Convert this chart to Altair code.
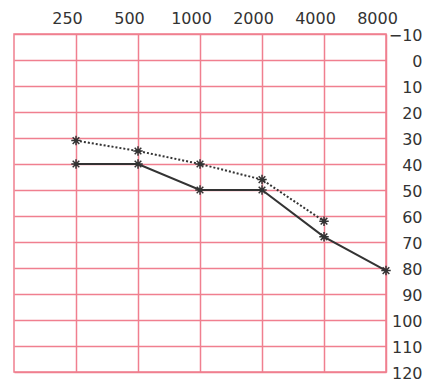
import altair as alt
import pandas as pd

freqs_solid = [250, 500, 1000, 2000, 4000, 8000]
db_solid = [40, 40, 50, 50, 68, 81]
freqs_dotted = [250, 500, 1000, 2000, 4000]
db_dotted = [31, 35, 40, 46, 62]
x_ticks = [250, 500, 1000, 2000, 4000, 8000]
y_ticks = list(range(-10, 121, 10))

solid = pd.DataFrame({"freq": freqs_solid, "db": db_solid})
dotted = pd.DataFrame({"freq": freqs_dotted, "db": db_dotted})

GRID = "#f07f8f"
FONT = "DejaVu Sans"
STAR = "M-1,0L1,0M0,-1L0,1M-0.7,-0.7L0.7,0.7M-0.7,0.7L0.7,-0.7"

xs = alt.Scale(type="log", base=2, domain=[125, 8000], nice=False)
ys = alt.Scale(domain=[-10, 120], reverse=True, nice=False, zero=False)

xax = alt.Axis(orient="top", values=x_ticks, title=None, ticks=False, domain=False, format="d",
               grid=True, gridColor=GRID, gridWidth=1.5, gridOpacity=1,
               labelFont=FONT, labelFontSize=16, labelColor="#333", labelPadding=8,
               labelOffset=-9, labelFlush=False, labelOverlap=False)
yax = alt.Axis(orient="right", values=y_ticks, title=None, ticks=False, domain=False, format="d",
               grid=True, gridColor=GRID, gridWidth=1.5, gridOpacity=1,
               labelFont=FONT, labelFontSize=16, labelColor="#333", labelAlign="right",
               labelPadding=36, labelBaseline="middle", labelOffset=1,
               labelFlush=False, labelOverlap=False)

base_s = alt.Chart(solid).encode(x=alt.X("freq:Q", scale=xs, axis=xax),
                                 y=alt.Y("db:Q", scale=ys, axis=yax))
base_d = alt.Chart(dotted).encode(x=alt.X("freq:Q", scale=xs, axis=xax),
                                  y=alt.Y("db:Q", scale=ys, axis=yax))

line_s = base_s.mark_line(color="#333", strokeWidth=2)
line_d = base_d.mark_line(color="#333", strokeWidth=2, strokeDash=[2, 2])
pts_s = base_s.mark_point(shape=STAR, size=90, color="#333", strokeWidth=1.5, filled=False, opacity=1)
pts_d = base_d.mark_point(shape=STAR, size=90, color="#333", strokeWidth=1.5, filled=False, opacity=1)

chart = alt.layer(line_s, line_d, pts_s, pts_d).properties(
    width=372, height=338,
    autosize=alt.AutoSizeParams(type="none"),
    padding={"left": 6, "top": 26, "right": 40, "bottom": 10},
    background="white",
).configure_view(stroke=GRID, strokeWidth=1.5)

chart.save("out.html", embed_options={"renderer": "svg", "actions": False})
